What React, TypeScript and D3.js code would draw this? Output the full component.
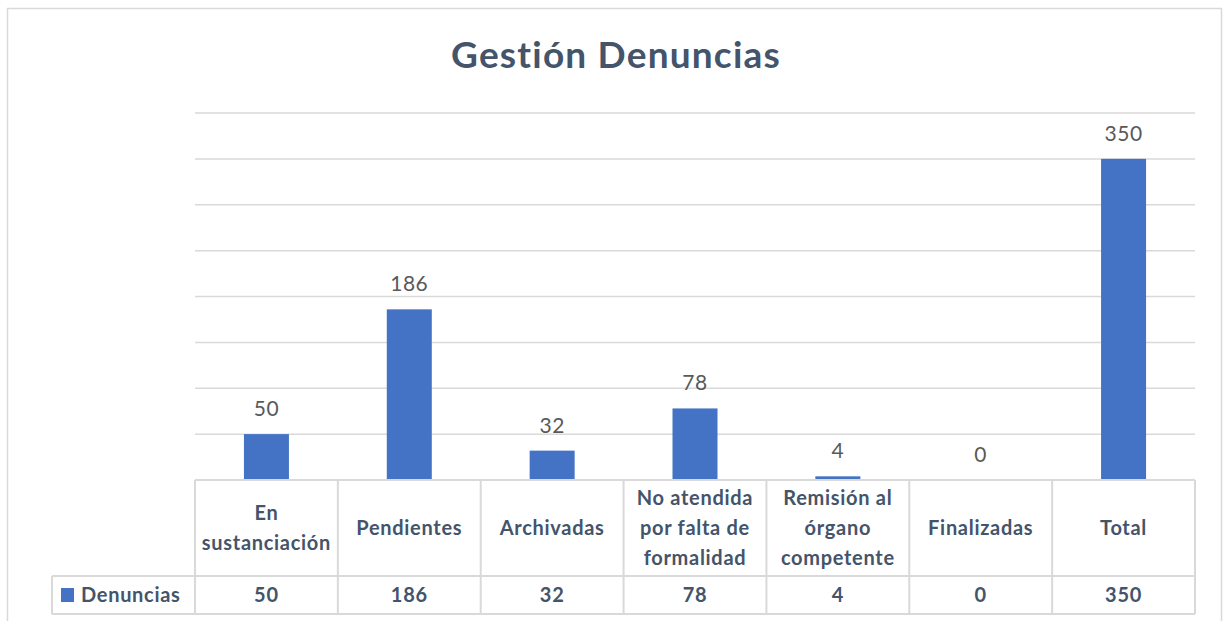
import React from 'react';
import * as d3 from 'd3';

// datos del gráfico
const categories = ['En sustanciación', 'Pendientes', 'Archivadas', 'No atendida por falta de formalidad', 'Remisión al órgano competente', 'Finalizadas', 'Total'];
const categoryLines = [
  ['En', 'sustanciación'],
  ['Pendientes'],
  ['Archivadas'],
  ['No atendida', 'por falta de', 'formalidad'],
  ['Remisión al', 'órgano', 'competente'],
  ['Finalizadas'],
  ['Total'],
];
const denuncias = [50, 186, 32, 78, 4, 0, 350];
const seriesName = 'Denuncias';
const yTicks = [0, 50, 100, 150, 200, 250, 300, 350, 400];

const W = 1227;
const H = 621;
const FONT = 'Lato, "Open Sans", sans-serif';
const GRID = '#d9d9d9';
const TEXT = '#44546A';
const BAR = '#4472C4';

export default function App() {
  const plotLeft = 195;
  const plotRight = 1195;
  const y = d3.scaleLinear().domain([0, 400]).range([480, 113]);
  const x = d3.scaleBand<string>().domain(categories).range([plotLeft, plotRight]).padding(0);
  const barW = 45;

  const headerTop = y(0);
  const headerBottom = 576;
  const rowBottom = 614;
  const legendLeft = 52;
  const lineH = 30;

  return (
    <svg
      width={W}
      height={H}
      style={{ position: 'absolute', left: 0, top: 0, display: 'block', background: '#fff' }}
      fontFamily={FONT}
    >
      {/* marco */}
      <rect x={7.5} y={8.5} width={1214} height={700} fill="#fff" stroke={GRID} strokeWidth={1.5} />

      <text x={616} y={68} textAnchor="middle" fontSize={37} fontWeight={700} letterSpacing={1.2} fill={TEXT}>
        Gestión Denuncias
      </text>

      {/* cuadrícula */}
      {yTicks.slice(1).map(t => (
        <line key={t} x1={plotLeft} x2={plotRight} y1={y(t)} y2={y(t)} stroke={GRID} strokeWidth={1.5} />
      ))}

      {/* barras */}
      {categories.map((c, i) => {
        const cx = (x(c) ?? 0) + x.bandwidth() / 2;
        const v = denuncias[i];
        return (
          <g key={c}>
            <rect x={cx - barW / 2} y={y(v)} width={barW} height={y(0) - y(v)} fill={BAR} />
            <text x={cx} y={y(v) - 18} textAnchor="middle" fontSize={21} letterSpacing={0.5} fill="#595959">
              {v}
            </text>
          </g>
        );
      })}

      {/* tabla de datos */}
      <g stroke={GRID} strokeWidth={2} fill="none">
        <line x1={plotLeft} x2={plotRight} y1={headerTop} y2={headerTop} />
        <line x1={legendLeft} x2={plotRight} y1={headerBottom} y2={headerBottom} />
        <line x1={legendLeft} x2={plotRight} y1={rowBottom} y2={rowBottom} />
        <line x1={legendLeft} x2={legendLeft} y1={headerBottom} y2={rowBottom} />
        {categories.map(c => (
          <line key={c} x1={x(c)} x2={x(c)} y1={headerTop} y2={rowBottom} />
        ))}
        <line x1={plotRight} x2={plotRight} y1={headerTop} y2={rowBottom} />
      </g>

      {categories.map((c, i) => {
        const cx = (x(c) ?? 0) + x.bandwidth() / 2;
        const lines = categoryLines[i];
        const mid = (headerTop + headerBottom) / 2;
        const first = mid - ((lines.length - 1) * lineH) / 2;
        return (
          <g key={c} fontSize={20} fontWeight={700} letterSpacing={0.7} fill={TEXT} textAnchor="middle">
            {lines.map((l, j) => (
              <text key={j} x={cx} y={first + j * lineH} dy="0.35em">
                {l}
              </text>
            ))}
            <text x={cx} y={(headerBottom + rowBottom) / 2} dy="0.35em">
              {denuncias[i]}
            </text>
          </g>
        );
      })}

      {/* leyenda */}
      <rect x={61} y={588} width={13} height={14} fill={BAR} />
      <text x={81} y={(headerBottom + rowBottom) / 2} dy="0.35em" fontSize={20} fontWeight={700} letterSpacing={0.7} fill={TEXT}>
        {seriesName}
      </text>
    </svg>
  );
}
